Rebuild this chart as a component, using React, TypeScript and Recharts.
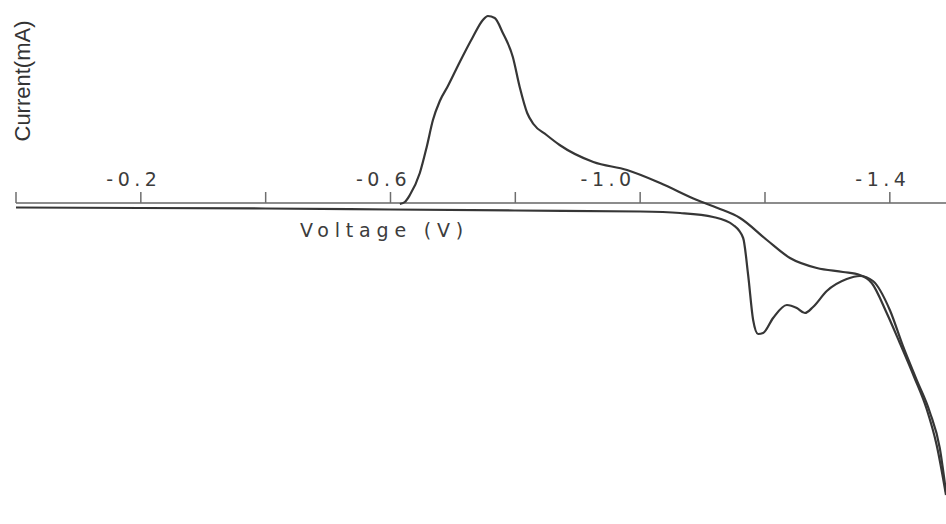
import { LineChart, Line, XAxis, YAxis, ReferenceLine, ReferenceDot, Label } from 'recharts'

// cathodic sweep, 0 V -> -1.49 V
const forwardVolts = [0, -0.2, -0.4, -0.6, -0.8, -1.0, -1.064, -1.117, -1.149, -1.165, -1.173, -1.181, -1.189, -1.197, -1.213, -1.235, -1.251, -1.264, -1.277, -1.299, -1.331, -1.352, -1.373, -1.4, -1.421, -1.443, -1.464, -1.48, -1.49]
const forwardCurrent = [-0.035, -0.04, -0.045, -0.055, -0.065, -0.075, -0.09, -0.13, -0.21, -0.34, -0.71, -1.16, -1.3, -1.29, -1.14, -1.01, -1.04, -1.09, -1.03, -0.87, -0.75, -0.72, -0.77, -1.06, -1.42, -1.76, -2.08, -2.44, -2.88]

// return sweep with the stripping peak, listed from -0.6 V outwards
const reverseVolts = [-0.615, -0.623, -0.631, -0.647, -0.658, -0.668, -0.679, -0.692, -0.711, -0.732, -0.748, -0.756, -0.767, -0.78, -0.796, -0.807, -0.819, -0.829, -0.85, -0.871, -0.925, -0.979, -1.032, -1.091, -1.124, -1.16, -1.203, -1.24, -1.283, -1.325, -1.352, -1.371, -1.395, -1.416, -1.439, -1.459, -1.475, -1.49]
const reverseCurrent = [0, 0.02, 0.09, 0.31, 0.57, 0.84, 1.03, 1.18, 1.42, 1.67, 1.84, 1.88, 1.86, 1.71, 1.47, 1.17, 0.91, 0.8, 0.69, 0.59, 0.42, 0.34, 0.21, 0.04, -0.04, -0.14, -0.36, -0.54, -0.64, -0.68, -0.71, -0.79, -1.09, -1.39, -1.73, -2.05, -2.41, -2.91]

const tickVolts = [0, -0.2, -0.4, -0.6, -0.8, -1.0, -1.2, -1.4]
const labelVolts = [-0.2, -0.6, -1.0, -1.4]
const labelText = ['-0.2', '-0.6', '-1.0', '-1.4']

const forward = forwardVolts.map((v, i) => ({ v, i: forwardCurrent[i] }))
const reverse = reverseVolts.map((v, i) => ({ v, i: reverseCurrent[i] }))

const ink = '#363636'
const axisGrey = '#8c8c8c'
const tickFont = { fontFamily: 'DejaVu Sans', fontSize: 19, fill: '#3c3c3c', letterSpacing: 4.5 }

export default function App() {
  return (
    <div style={{ position: 'absolute', left: 0, top: 0, width: 946, height: 524, background: '#fff' }}>
      <LineChart width={946} height={524} margin={{ top: 0, right: 0, bottom: 0, left: 16 }}>
        <XAxis dataKey="v" type="number" domain={[-1.49, 0]} reversed hide allowDataOverflow />
        <YAxis type="number" domain={[-3.2, 2.04]} hide allowDataOverflow />
        <ReferenceLine y={0.01} stroke={axisGrey} strokeWidth={1.8} ifOverflow="visible" />
        {tickVolts.map((t) => (
          <ReferenceLine
            key={t}
            segment={[{ x: t, y: 0.01 }, { x: t, y: 0.12 }]}
            stroke="#6e6e6e"
            strokeWidth={1.5}
            ifOverflow="visible"
          />
        ))}
        {labelVolts.map((t, k) => (
          <ReferenceDot key={t} x={t} y={0.25} r={0} fill="none" stroke="none" ifOverflow="visible">
            <Label value={labelText[k]} position="center" dx={t === -1.0 ? -32 : -7} style={tickFont} />
          </ReferenceDot>
        ))}
        <Line
          data={forward}
          dataKey="i"
          type="monotone"
          stroke={ink}
          strokeWidth={2.2}
          dot={false}
          isAnimationActive={false}
        />
        <Line
          data={reverse}
          dataKey="i"
          type="monotone"
          stroke={ink}
          strokeWidth={2.2}
          dot={false}
          isAnimationActive={false}
        />
      </LineChart>
      <div
        style={{
          position: 'absolute',
          left: 300,
          top: 221,
          fontFamily: 'DejaVu Sans',
          fontSize: 19,
          lineHeight: 1,
          letterSpacing: 5.8,
          color: '#3c3c3c',
          whiteSpace: 'nowrap',
        }}
      >
        Voltage (V)
      </div>
      <div
        style={{
          position: 'absolute',
          left: 23,
          top: 81,
          transform: 'translate(-50%, -50%) rotate(-90deg)',
          fontFamily: 'Liberation Sans',
          fontSize: 22,
          lineHeight: 1,
          color: '#333',
          whiteSpace: 'nowrap',
        }}
      >
        Current(mA)
      </div>
    </div>
  )
}
